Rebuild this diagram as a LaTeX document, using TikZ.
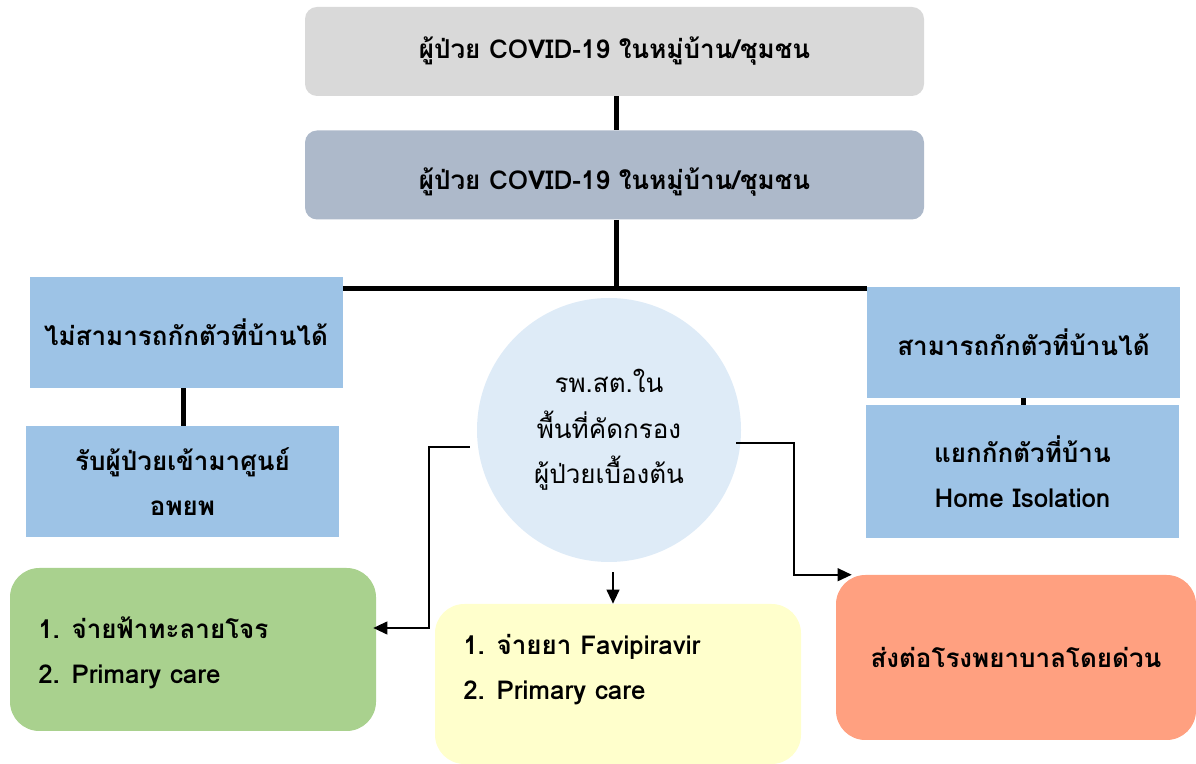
\documentclass[tikz,border=0pt]{standalone}
\usepackage{fontspec}
\setmainfont[Script=Thai]{Loma}
\usetikzlibrary{arrows.meta}
\definecolor{greyfill}{HTML}{D9D9D9}
\definecolor{slatefill}{HTML}{ADB9CA}
\definecolor{bluefill}{HTML}{9DC3E6}
\definecolor{circfill}{HTML}{DEEBF7}
\definecolor{greenfill}{HTML}{A9D18E}
\definecolor{yellowfill}{HTML}{FFFFCC}
\definecolor{orangefill}{HTML}{FFA080}

\begin{document}
\begin{tikzpicture}[x=0.75pt,y=0.75pt,
  box/.style={inner sep=0pt, align=center, font=\fontsize{19.5}{34}\selectfont\bfseries},
  topbox/.style={box, rounded corners=9pt, minimum width=619*0.75pt, minimum height=89*0.75pt},
  sidebox/.style={box, fill=bluefill, minimum width=313*0.75pt},
  carebox/.style={box, rounded corners=22pt, minimum width=366*0.75pt},
  listtext/.style={inner sep=0pt, align=left, font=\fontsize{19.5}{34}\selectfont\bfseries},
  link/.style={line width=3.75pt},
  flow/.style={line width=1.5pt, -{Triangle[length=10.5pt,width=9.5pt]}}]
  \useasboundingbox (0,0) rectangle (1196,764);

  \node[topbox, fill=greyfill] (topbox) at (614.5,712.5) {ผู้ป่วย COVID-19 ในหมู่บ้าน/ชุมชน};
  \node[topbox, fill=slatefill, text height=27pt, text depth=5pt] (casebox) at (614.5,589) {ผู้ป่วย COVID-19 ในหมู่บ้าน/ชุมชน};
  \coordinate (split) at (616,475);

  \node[sidebox, minimum height=111*0.75pt] (nohome) at (186,431.5) {ไม่สามารถกักตัวที่บ้านได้};
  \node[sidebox, minimum height=111*0.75pt] (shelter) at (182.5,282.5) {รับผู้ป่วยเข้ามาศูนย์\\อพยพ};
  \node[sidebox, minimum height=111*0.75pt] (canhome) at (1023.5,421.5) {สามารถกักตัวที่บ้านได้};
  \node[sidebox, minimum height=133*0.75pt] (homeiso) at (1022.5,292.5) {แยกกักตัวที่บ้าน\\Home Isolation};

  \node[circle, fill=circfill, minimum size=264*0.75pt, inner sep=0pt, align=center,
    font=\fontsize{19.5}{34}\selectfont] (screen) at (609,334) {รพ.สต.ใน\\พื้นที่คัดกรอง\\ผู้ป่วยเบื้องต้น};

  \node[carebox, fill=greenfill, minimum height=163*0.75pt] (greenbox) at (193,114.5) {};
  \node[carebox, fill=yellowfill, minimum height=160*0.75pt] (yellowbox) at (618,80) {};
  \node[carebox, fill=orangefill, minimum width=360*0.75pt, minimum height=165*0.75pt] (refer) at (1016,106.5) {ส่งต่อโรงพยาบาลโดยด่วน};
  \node[listtext, anchor=west] (greentext) at (38,111) {1. จ่ายฟ้าทะลายโจร\\2. Primary care};
  \node[listtext, anchor=west] (yellowtext) at (463,94.5) {1. จ่ายยา Favipiravir\\2. Primary care};

  \draw[link] (topbox.south -| split) -- (casebox.north -| split);
  \draw[link] (casebox.south -| split) -- (split);
  \draw[link] (split -| nohome.east) -- (split -| canhome.west);
  \draw[link] ([xshift=-2.25pt]nohome.south) -- ([xshift=-2.25pt]nohome.south |- shelter.north);
  \draw[link] (canhome.south) -- (canhome.south |- homeiso.north);

  \draw[flow] ([shift={(-7,-17)}]screen.west) -- ++(-41,0) |- ([shift={(-3,21.5)}]greenbox.east);
  \draw[flow] ([shift={(-5,-13)}]screen.east) -- ++(58,0) |- ([shift={(16,0)}]refer.north west);
  \draw[flow] ([shift={(4,-10)}]screen.south) -- ([shift={(4,0)}]screen.south |- yellowbox.north);
\end{tikzpicture}
\end{document}
